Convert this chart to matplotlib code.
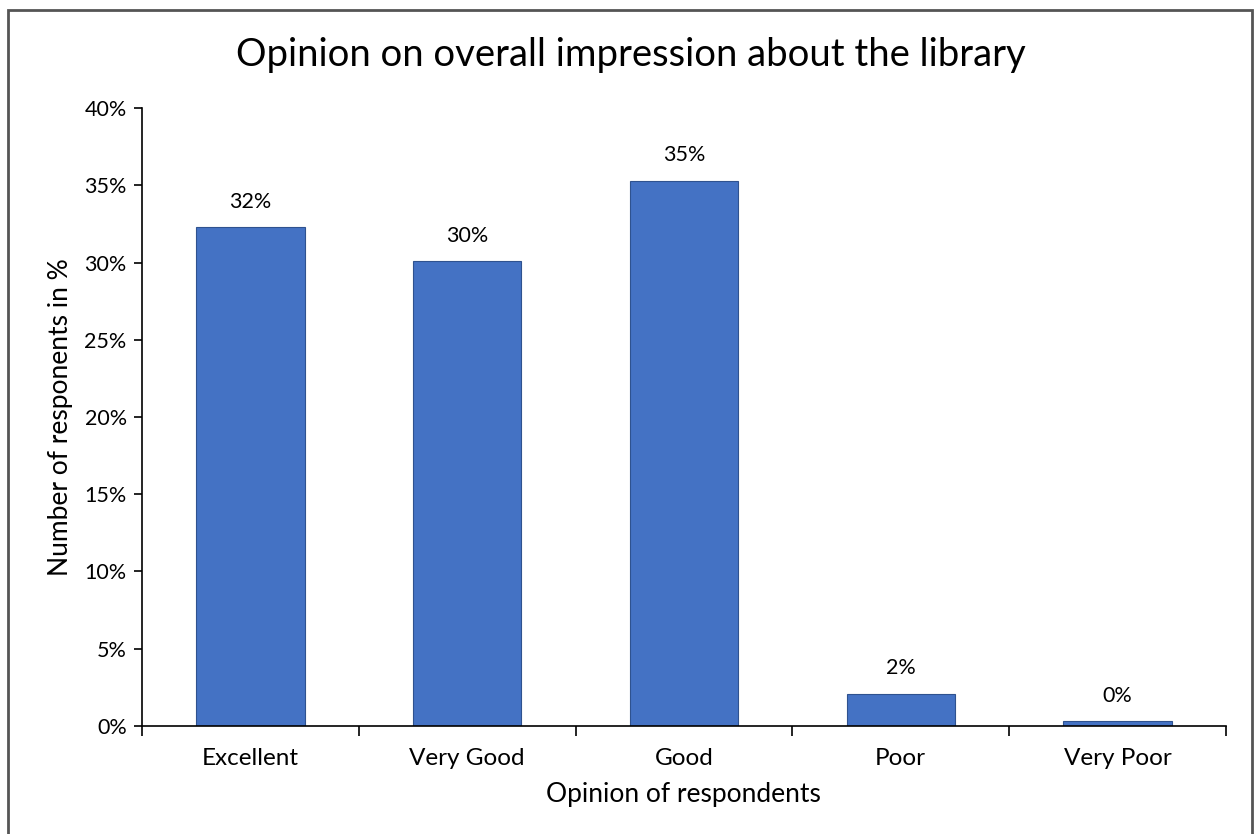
import matplotlib.pyplot as plt
import numpy as np
from matplotlib.patches import Rectangle

# Data
categories = ["Excellent", "Very Good", "Good", "Poor", "Very Poor"]
values = [32.3, 30.1, 35.3, 2.1, 0.3]
value_labels = ["32%", "30%", "35%", "2%", "0%"]

plt.rcParams['font.family'] = ['Lato', 'DejaVu Sans']

fig = plt.figure(figsize=(12.55, 8.34), dpi=100)
ax = fig.add_axes([0.1131, 0.1295, 0.8637, 0.741])

ind = np.arange(len(categories))
bars = ax.bar(ind, values, width=0.5, color='#4472C4', edgecolor='#2F528F', linewidth=0.8)

for b, lab in zip(bars, value_labels):
    ax.text(b.get_x() + b.get_width() / 2, b.get_height() + 1.0, lab,
            ha='center', va='bottom', fontsize=15.5)

ax.set_xlim(-0.5, len(categories) - 0.5)
ax.set_ylim(0, 40)
ax.set_yticks(np.arange(0, 41, 5))
ax.set_yticklabels([f"{v}%" for v in range(0, 41, 5)], fontsize=15.5)

# category labels centred, tick marks between categories
ax.set_xticks(ind)
ax.set_xticklabels(categories, fontsize=17.5)
ax.tick_params(axis='x', length=0, pad=16)
ax.set_xticks(np.arange(-0.5, len(categories), 1), minor=True)
ax.tick_params(axis='x', which='minor', length=7, width=1.2, direction='out')
ax.tick_params(axis='y', length=6, width=1.2, direction='out', pad=5)

for s in ['top', 'right']:
    ax.spines[s].set_visible(False)
ax.spines['left'].set_linewidth(1.2)
ax.spines['bottom'].set_linewidth(1.2)

ax.set_xlabel("Opinion of respondents", fontsize=19, labelpad=9)
ax.set_ylabel("Number of responents in %", fontsize=19, labelpad=8)
fig.text(0.503, 0.934, "Opinion on overall impression about the library",
         ha='center', va='center', fontsize=27.5)

# outer frame
fig.patches.append(Rectangle((8 / 1255, -0.05), 1244 / 1255, 1.05 - 10 / 834,
                             transform=fig.transFigure, fill=False,
                             edgecolor='#555555', linewidth=2.0))

fig.savefig("out.png", dpi=100)
